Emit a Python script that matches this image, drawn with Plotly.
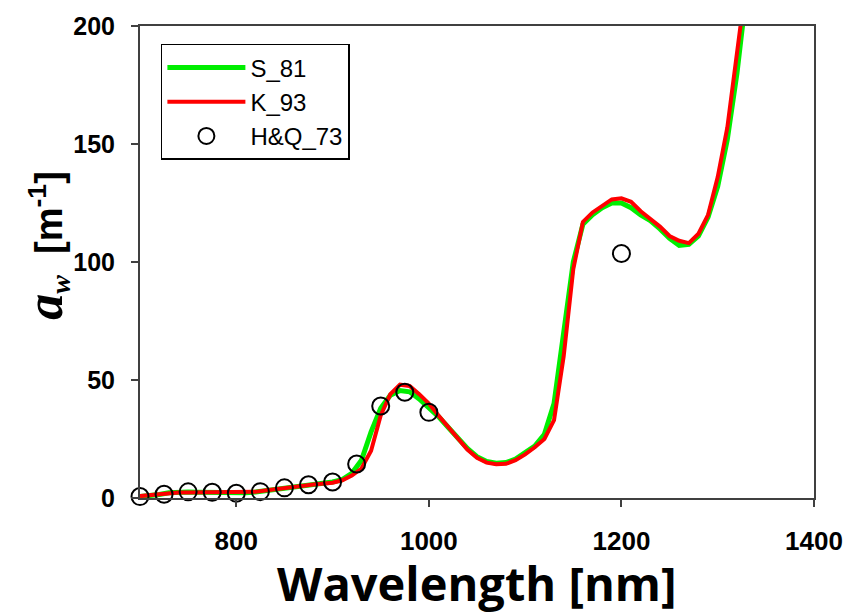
import plotly.graph_objects as go

# wavelength grid for the two spectra (nm)
wl = [700, 710, 720, 730, 740, 750, 760, 770, 780, 790, 800, 810, 820, 830, 840, 850,
      860, 870, 880, 890, 900, 910, 920, 930, 940, 950, 960, 970, 980, 990, 1000,
      1010, 1020, 1030, 1040, 1050, 1060, 1070, 1080, 1090, 1100, 1110, 1120, 1130,
      1140, 1150, 1160, 1170, 1180, 1190, 1200, 1210, 1220, 1230, 1240, 1250, 1260,
      1270, 1280, 1290, 1300, 1310, 1320, 1330]

s81 = [0.6, 0.9, 1.5, 2.2, 2.5, 2.5, 2.4, 2.3, 2.2, 2.1, 2.1, 2.2, 2.5, 3.0, 3.5, 4.0,
       4.5, 5.0, 5.5, 6.0, 6.8, 7.8, 10.5, 16.0, 28.0, 38.0, 43.5, 45.5, 45.0, 42.0, 38.5,
       34.5, 30.0, 25.5, 21.0, 17.5, 15.5, 14.7, 15.0, 16.5, 19.0, 22.0, 27.0, 40.0,
       70.0, 100.0, 116.0, 120.0, 123.0, 125.0, 125.0, 123.0, 120.0, 117.5, 114.0, 110.0, 107.0,
       107.5, 111.0, 119.0, 132.0, 152.0, 180.0, 215.0]

k93 = [0.8, 1.2, 1.8, 2.2, 2.3, 2.3, 2.3, 2.3, 2.3, 2.3, 2.3, 2.4, 2.6, 3.2, 3.6, 4.2,
       4.7, 5.2, 5.7, 6.1, 6.5, 7.5, 9.5, 12.5, 20.0, 35.0, 44.0, 48.0, 47.5, 44.0, 40.0,
       35.0, 30.0, 25.0, 20.5, 17.0, 15.0, 14.3, 14.5, 16.0, 18.5, 21.5, 25.0, 33.0,
       60.0, 97.0, 117.0, 121.0, 124.0, 126.5, 127.0, 125.5, 121.5, 118.5, 115.0, 111.0, 109.0,
       108.0, 112.0, 120.0, 136.0, 157.0, 188.0, 220.0]

# H&Q_73 discrete measurements
hq_wl = [700, 725, 750, 775, 800, 825, 850, 875, 900, 925, 950, 975, 1000, 1200]
hq_aw = [0.6, 1.6, 2.6, 2.4, 2.0, 2.7, 4.3, 5.6, 6.8, 14.4, 39.0, 44.8, 36.3, 103.6]

x_ticks = [800, 1000, 1200, 1400]
y_ticks = [0, 50, 100, 150, 200]

fig = go.Figure()
fig.add_trace(go.Scatter(x=wl, y=s81, mode="lines", name="S_81",
                         line=dict(color="#00ee00", width=5)))
fig.add_trace(go.Scatter(x=wl, y=k93, mode="lines", name="K_93",
                         line=dict(color="#ff0000", width=4)))
fig.add_trace(go.Scatter(x=hq_wl, y=hq_aw, mode="markers", name="H&Q_73",
                         cliponaxis=False,
                         marker=dict(symbol="circle-open", size=17, color="black",
                                     line=dict(width=2, color="black"))))

axis_common = dict(showline=True, linecolor="#404040", linewidth=2, mirror=True,
                   ticks="outside", tickcolor="#404040", tickwidth=2, ticklen=7,
                   showgrid=False, zeroline=False)

fig.update_layout(
    width=855, height=613,
    margin=dict(l=140, r=33, t=21, b=115),
    paper_bgcolor="white", plot_bgcolor="white",
    showlegend=True,
    legend=dict(x=0.031, y=0.962, xanchor="left", yanchor="top",
                bgcolor="white", bordercolor="black", borderwidth=1.5,
                font=dict(family="Liberation Sans, Arial", size=24, color="black"),
                itemwidth=78, tracegroupgap=0),
    xaxis=dict(range=[700, 1400], tickvals=x_ticks, ticktext=[str(v) for v in x_ticks],
               tickfont=dict(family="Liberation Sans, Arial", size=26, color="black", weight="bold"),
               ticklabelstandoff=12, **axis_common),
    yaxis=dict(range=[0, 200], tickvals=y_ticks, ticktext=[str(v) for v in y_ticks],
               tickfont=dict(family="Liberation Sans, Arial", size=25, color="black", weight="bold"),
               ticklabelstandoff=11, **axis_common),
    annotations=[
        dict(text="<b>Wavelength [nm]</b>", xref="paper", yref="paper",
             x=0.5, y=-0.18, xanchor="center", yanchor="middle",
             showarrow=False,
             font=dict(family="Open Sans, Lato, sans-serif", size=47, color="black")),
        dict(text="<span style=\"font-family:'Liberation Serif', 'Times New Roman', serif;font-size:52px\"><b><i>a</i></b></span>"
                  "<span style=\"font-family:'Liberation Serif', 'Times New Roman', serif;font-size:40px\"><b><i><sub>w</sub></i></b></span>"
                  "  <b>[m<sup>-1</sup>]</b>",
             xref="paper", yref="paper", x=-0.139, y=0.535, xanchor="center", yanchor="middle",
             textangle=-90, showarrow=False,
             font=dict(family="Liberation Sans, Arial", size=38, color="black")),
    ],
)

fig.write_html("out.html")
